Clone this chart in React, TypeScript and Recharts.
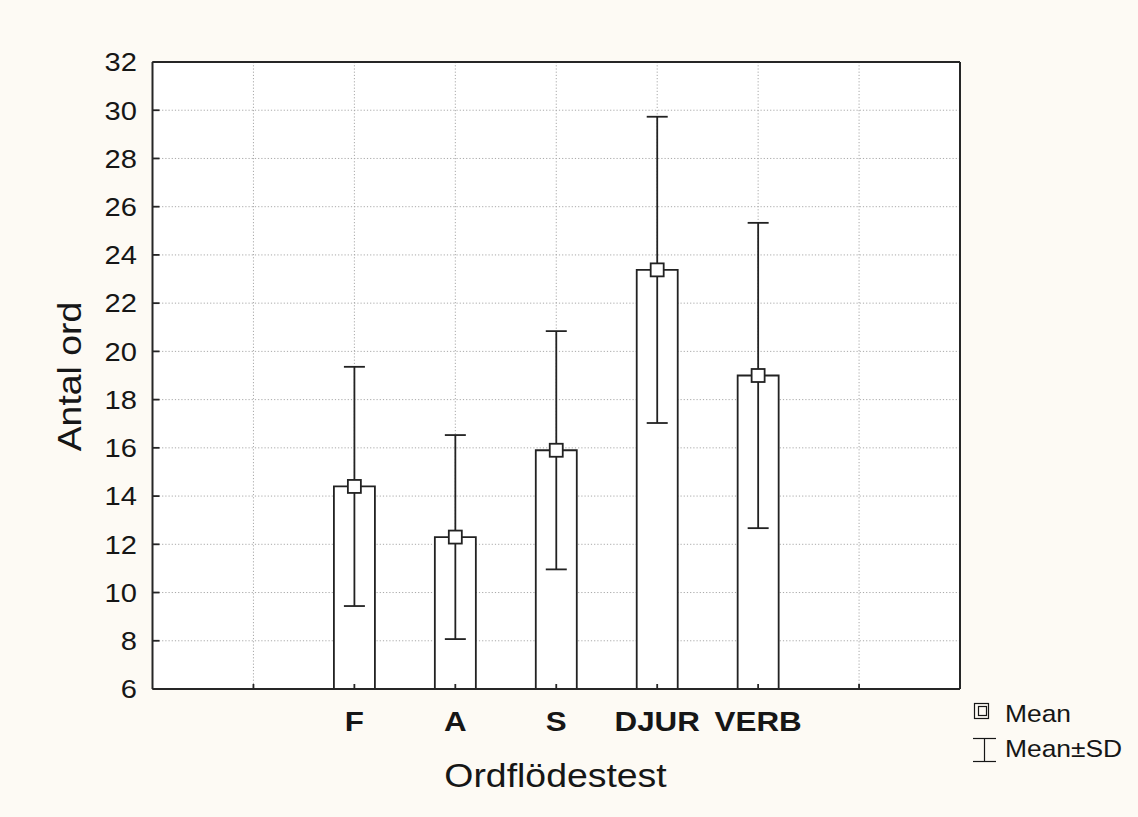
import React from 'react';
import { ComposedChart, Bar, Scatter, ErrorBar, XAxis, YAxis, CartesianGrid } from 'recharts';

// ---- data ----
const categories = ['F', 'A', 'S', 'DJUR', 'VERB'];
const positions = [2, 3, 4, 5, 6];
const means = [14.4, 12.3, 15.9, 23.38, 19.0];
const sds = [4.96, 4.23, 4.94, 6.35, 6.33];
const yTicks = [6, 8, 10, 12, 14, 16, 18, 20, 22, 24, 26, 28, 30, 32];
const xTicks = [1, 2, 3, 4, 5, 6, 7];
const xTitle = 'Ordflödestest';
const yTitle = 'Antal ord';
const legendLabels = ['Mean', 'Mean±SD'];

const data = categories.map((name, i) => ({ name, x: positions[i], mean: means[i], sd: sds[i] }));

const FONT = '"Liberation Sans", Arial, Helvetica, sans-serif';
const INK = '#161616';
const LINE = '#222222';
const SX = 1.12;
const SW = 1.8;

const YTick = (props: any) => {
  const { x, y, payload } = props;
  return (
    <text
      transform={`translate(${x},${y + 9.3}) scale(${SX},1)`}
      textAnchor="end"
      fontSize={26}
      fontFamily={FONT}
      fill={INK}
    >
      {payload.value}
    </text>
  );
};

const XTick = (props: any) => {
  const { x, y, payload } = props;
  const idx = positions.indexOf(payload.value);
  const label = idx >= 0 ? categories[idx] : '';
  if (!label) return <g />;
  return (
    <text
      transform={`translate(${x},${y}) scale(${SX},1)`}
      textAnchor="middle"
      fontSize={28}
      fontWeight="bold"
      fontFamily={FONT}
      fill={INK}
    >
      {label}
    </text>
  );
};

const MeanSquare = (props: any) => {
  const { cx, cy } = props;
  if (cx == null || cy == null) return <g />;
  return (
    <rect x={cx - 6.5} y={cy - 6.5} width={13} height={13} fill="#ffffff" stroke={LINE} strokeWidth={SW} />
  );
};

const axisLine = { stroke: '#262626', strokeWidth: 2 };
const tickLine = { stroke: '#262626', strokeWidth: 1.8 };

export default function App() {
  return (
    <div
      style={{
        position: 'absolute',
        left: 0,
        top: 0,
        width: 1138,
        height: 817,
        background: '#fdfaf4',
        overflow: 'hidden',
      }}
    >
      <ComposedChart
        width={1138}
        height={817}
        data={data}
        margin={{ top: 61, right: 177, bottom: 127, left: 151.5 }}
      >
        <CartesianGrid stroke="#a9a9a9" strokeDasharray="1.2 2" strokeWidth={1} fill="#ffffff" />
        <XAxis
          xAxisId={0}
          type="number"
          dataKey="x"
          domain={[0, 8]}
          ticks={xTicks}
          interval={0}
          height={1}
          tickSize={-5}
          tickMargin={47}
          tick={<XTick />}
          axisLine={axisLine}
          tickLine={tickLine}
        />
        <XAxis
          xAxisId="top"
          orientation="top"
          type="number"
          dataKey="x"
          domain={[0, 8]}
          ticks={xTicks}
          interval={0}
          height={1}
          tickSize={-5}
          tick={false}
          axisLine={axisLine}
          tickLine={tickLine}
        />
        <YAxis
          yAxisId={0}
          type="number"
          domain={[6, 32]}
          ticks={yTicks}
          interval={0}
          width={1}
          tickSize={-7}
          tickMargin={22.5}
          tick={<YTick />}
          axisLine={axisLine}
          tickLine={tickLine}
        />
        <YAxis
          yAxisId="right"
          orientation="right"
          type="number"
          domain={[6, 32]}
          ticks={yTicks}
          interval={0}
          width={1}
          tickSize={-7}
          tick={false}
          axisLine={axisLine}
          tickLine={tickLine}
        />
        <Bar
          dataKey="mean"
          barSize={41}
          fill="#ffffff"
          stroke={LINE}
          strokeWidth={SW}
          isAnimationActive={false}
        >
          <ErrorBar dataKey="sd" direction="y" width={10.5} stroke={LINE} strokeWidth={SW} />
        </Bar>
        <Scatter dataKey="mean" shape={<MeanSquare />} isAnimationActive={false} />
      </ComposedChart>

      <svg
        width={1138}
        height={817}
        style={{ position: 'absolute', left: 0, top: 0, pointerEvents: 'none' }}
      >
        <text
          transform={`translate(555.5,787) scale(1.1,1)`}
          textAnchor="middle"
          fontSize={34}
          fontFamily={FONT}
          fill={INK}
        >
          {xTitle}
        </text>
        <text
          transform={`translate(81,376.5) rotate(-90) scale(1.1,1)`}
          textAnchor="middle"
          fontSize={34}
          fontFamily={FONT}
          fill={INK}
        >
          {yTitle}
        </text>
        {/* legend */}
        <rect x={974.5} y={703.5} width={14} height={15} fill="none" stroke={INK} strokeWidth={1.2} />
        <rect x={978.5} y={706.5} width={8} height={9} fill="none" stroke={INK} strokeWidth={1.2} />
        <text transform={`translate(1005,722) scale(1.1,1)`} fontSize={24} fontFamily={FONT} fill={INK}>
          {legendLabels[0]}
        </text>
        <line x1={973} y1={738.5} x2={996} y2={738.5} stroke={INK} strokeWidth={1.2} />
        <line x1={984.5} y1={738.5} x2={984.5} y2={761} stroke={INK} strokeWidth={1.2} />
        <line x1={973} y1={761.5} x2={996} y2={761.5} stroke={INK} strokeWidth={1.2} />
        <text transform={`translate(1005,756.5) scale(1.1,1)`} fontSize={24} fontFamily={FONT} fill={INK}>
          {legendLabels[1]}
        </text>
      </svg>
    </div>
  );
}
